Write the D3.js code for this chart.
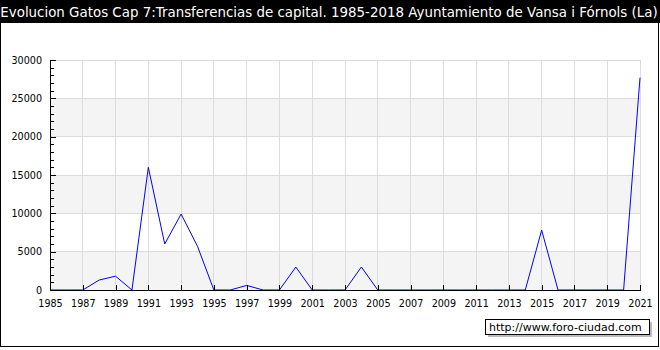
<!DOCTYPE html>
<html>
<head>
<meta charset="utf-8">
<script src="https://cdn.jsdelivr.net/npm/d3@7"></script>
<style>
  body { margin: 0; background: #fff; }
  svg { display: block; font-family: "DejaVu Sans", Verdana, sans-serif; }
</style>
</head>
<body>
<div id="chart"></div>
<script>
const title = "Evolucion Gatos Cap 7:Transferencias de capital. 1985-2018 Ayuntamiento de Vansa i Fórnols (La)";
const years = [1985, 1986, 1987, 1988, 1989, 1990, 1991, 1992, 1993, 1994, 1995, 1996, 1997, 1998, 1999, 2000, 2001, 2002, 2003, 2004, 2005, 2006, 2007, 2008, 2009, 2010, 2011, 2012, 2013, 2014, 2015, 2016, 2017, 2018, 2019, 2020, 2021];
const values = [0, 0, 0, 1300, 1800, 0, 16000, 6000, 9900, 5700, 0, 0, 600, 0, 0, 3000, 0, 0, 0, 3000, 0, 0, 0, 0, 0, 0, 0, 0, 0, 0, 7800, 0, 0, 0, 0, 0, 27700];
const xTicks = d3.range(1985, 2022, 2);
const yTicks = [0, 5000, 10000, 15000, 20000, 25000, 30000];
const watermark = "http://www.foro-ciudad.com";

const W = 660, H = 350;
const margin = { top: 60, right: 20, bottom: 60, left: 50 };
const width = W - margin.left - margin.right;
const height = H - margin.top - margin.bottom;

const data = years.map((y, i) => ({ year: y, value: values[i] }));

const x = d3.scaleLinear().domain([1985, 2021]).range([0, width]);
const y = d3.scaleLinear().domain([0, 30000]).range([height, 0]);

const svg = d3.select("#chart").append("svg")
  .attr("width", W).attr("height", H);

// frame + header
svg.append("rect").attr("x", 0.5).attr("y", 0.5).attr("width", W - 2).attr("height", H - 4)
  .attr("fill", "#fff").attr("stroke", "#000");
svg.append("rect").attr("x", 0).attr("y", 0).attr("width", W).attr("height", 23).attr("fill", "#000");
svg.append("text").attr("x", W / 2 - 1).attr("y", 17).attr("text-anchor", "middle")
  .attr("fill", "#fff").attr("font-size", 13.4).text(title);

const g = svg.append("g").attr("transform", `translate(${margin.left},${margin.top})`);

// alternating bands
const bands = d3.pairs(yTicks).filter((d, i) => i % 2 === 0);
g.append("g").selectAll("rect").data(bands).join("rect")
  .attr("x", 0).attr("width", width)
  .attr("y", d => y(d[1])).attr("height", d => y(d[0]) - y(d[1]))
  .attr("fill", "#f4f4f4");

// grid
g.append("g").attr("stroke", "#dcdcdc").attr("shape-rendering", "crispEdges")
  .call(s => s.selectAll("line.h").data(yTicks.slice(1)).join("line").attr("class", "h")
    .attr("x1", 0).attr("x2", width).attr("y1", d => y(d)).attr("y2", d => y(d)))
  .call(s => s.selectAll("line.v").data(xTicks.slice(1)).join("line").attr("class", "v")
    .attr("y1", 0).attr("y2", height).attr("x1", d => x(d)).attr("x2", d => x(d)));

// line
g.append("path").datum(data)
  .attr("fill", "none").attr("stroke", "#0000ff").attr("stroke-width", 1)
  .attr("d", d3.line().x(d => x(d.year)).y(d => y(d.value)));

// axes
g.append("g").attr("transform", `translate(0,${height})`)
  .call(d3.axisBottom(x).tickValues(xTicks).tickFormat(d3.format("d")).tickSizeInner(-5).tickSizeOuter(0).tickPadding(10));
g.append("g")
  .call(d3.axisLeft(y).tickValues(yTicks).tickFormat(d3.format("d")).tickSizeInner(-6).tickSizeOuter(0).tickPadding(8));
g.append("g")
  .call(d3.axisLeft(y).tickValues(d3.range(1000, 30000, 1000).filter(v => v % 5000)).tickFormat("").tickSizeInner(-4).tickSizeOuter(0))
  .call(s => s.select(".domain").remove());
g.selectAll(".domain, .tick line").attr("stroke", "#000").attr("shape-rendering", "crispEdges");
g.selectAll(".tick text").attr("font-size", 9.6).attr("fill", "#000").attr("font-family", "DejaVu Sans, Verdana, sans-serif");

// watermark
const wm = svg.append("g").attr("transform", "translate(485,319)");
wm.append("rect").attr("x", 3).attr("y", 3).attr("width", 164).attr("height", 15).attr("fill", "#bbb");
wm.append("rect").attr("x", 0.5).attr("y", 0.5).attr("width", 164).attr("height", 15)
  .attr("fill", "#fff").attr("stroke", "#000");
wm.append("text").attr("x", 4).attr("y", 12).attr("font-size", 11).attr("fill", "#000").text(watermark);
</script>
</body>
</html>
